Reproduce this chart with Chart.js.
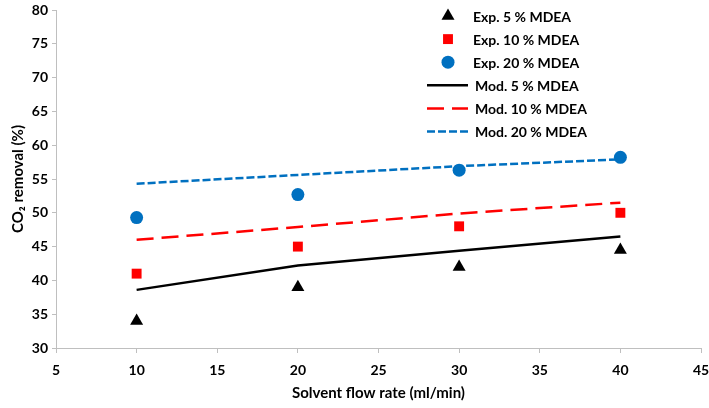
<!DOCTYPE html>
<html>
<head>
<meta charset="utf-8">
<script src="https://cdn.jsdelivr.net/npm/chart.js@4.4.1/dist/chart.umd.min.js"></script>
<style>
  html, body { margin: 0; padding: 0; background: #fff; }
  #wrap { width: 709px; height: 408px; }
</style>
</head>
<body>
<div id="wrap"><canvas id="chart" width="709" height="408"></canvas></div>
<script>
// flow rate (ml/min) on x, CO2 removal (%) on y
const flowRates = [10, 20, 30, 40];
const exp5  = [34, 39, 42, 44.5];
const exp10 = [41, 45, 48, 50];
const exp20 = [49.3, 52.7, 56.3, 58.2];
const mod5  = [38.6, 42.2, 44.4, 46.5];
const mod10 = [46.0, 47.9, 49.9, 51.5];
const mod20 = [54.3, 55.6, 56.9, 57.9];

const xRange = { min: 5, max: 45, step: 5 };
const yRange = { min: 30, max: 80, step: 5 };

const FONT = 'Lato';
const AXIS_GREY = '#bfbfbf';

function pts(vals) {
  return flowRates.map((x, i) => ({ x: x, y: vals[i] }));
}

function expSet(label, vals, color, style, r) {
  return {
    label, data: pts(vals), showLine: false,
    backgroundColor: color, borderColor: color,
    pointStyle: style, pointRadius: r, pointHoverRadius: r, pointBorderWidth: 0
  };
}

function modSet(label, vals, color, dash) {
  return {
    label, data: pts(vals), showLine: true,
    borderColor: color, backgroundColor: color,
    borderWidth: 2.5, borderDash: dash, pointRadius: 0, tension: 0, fill: false
  };
}

// leyenda dentro del area del grafico, arriba a la derecha
const legendInPlot = {
  id: 'legendInPlot',
  afterDraw(chart) {
    const ctx = chart.ctx;
    ctx.save();
    ctx.font = 'bold 14px ' + FONT;
    ctx.textBaseline = 'middle';
    chart.data.datasets.forEach((ds, i) => {
      const y = 16 + i * 23.1;
      if (ds.showLine === false) {
        ctx.fillStyle = ds.backgroundColor;
        Chart.helpers.drawPoint(ctx, { pointStyle: ds.pointStyle, radius: ds.pointRadius, borderWidth: 0, rotation: 0 }, 448, y);
      } else {
        ctx.strokeStyle = ds.borderColor;
        ctx.lineWidth = ds.borderWidth;
        ctx.setLineDash(ds.borderDash || []);
        ctx.beginPath();
        ctx.moveTo(427, y);
        ctx.lineTo(468, y);
        ctx.stroke();
        ctx.setLineDash([]);
      }
      ctx.fillStyle = '#000';
      ctx.fillText(ds.label, ds.showLine === false ? 473 : 475, y + 1);
    });
    ctx.restore();
  }
};

new Chart(document.getElementById('chart'), {
  type: 'line',
  data: {
    datasets: [
      expSet('Exp. 5 % MDEA', exp5, '#000000', 'triangle', 7.5),
      expSet('Exp. 10 % MDEA', exp10, '#ff0000', 'rect', 7),
      expSet('Exp. 20 % MDEA', exp20, '#0070c0', 'circle', 6.5),
      modSet('Mod. 5 % MDEA', mod5, '#000000', []),
      modSet('Mod. 10 % MDEA', mod10, '#ff0000', [17, 8]),
      modSet('Mod. 20 % MDEA', mod20, '#0070c0', [8, 3])
    ]
  },
  options: {
    responsive: false,
    animation: false,
    layout: { padding: { left: 0, right: 8, top: 10, bottom: 0 } },
    plugins: {
      legend: { display: false },
      tooltip: { enabled: false }
    },
    scales: {
      x: {
        type: 'linear',
        min: xRange.min, max: xRange.max,
        ticks: { stepSize: xRange.step, color: '#000', font: { family: FONT, size: 14, weight: 'bold' }, padding: 9, maxRotation: 0 },
        grid: { display: true, drawOnChartArea: false, drawTicks: true, tickLength: 5, color: AXIS_GREY },
        border: { display: true, color: AXIS_GREY, width: 1 },
        title: { display: true, text: 'Solvent flow rate (ml/min)', color: '#000', font: { family: FONT, size: 15, weight: 'bold' }, padding: { top: 0, bottom: 6 } },
        afterFit(scale) { scale.height = 60; scale.paddingLeft = 0; scale.paddingRight = 0; }
      },
      y: {
        min: yRange.min, max: yRange.max,
        ticks: { stepSize: yRange.step, color: '#000', font: { family: FONT, size: 14, weight: 'bold' }, padding: 4 },
        grid: { display: true, drawOnChartArea: false, drawTicks: true, tickLength: 4, color: AXIS_GREY },
        border: { display: true, color: AXIS_GREY, width: 1 },
        title: { display: true, text: 'CO₂ removal (%)', color: '#000', font: { family: FONT, size: 15, weight: 'bold' }, padding: { top: 9, bottom: 0 } },
        afterFit(scale) { scale.width = 56; scale.paddingTop = 0; scale.paddingBottom = 0; }
      }
    }
  },
  plugins: [legendInPlot]
});
</script>
</body>
</html>
